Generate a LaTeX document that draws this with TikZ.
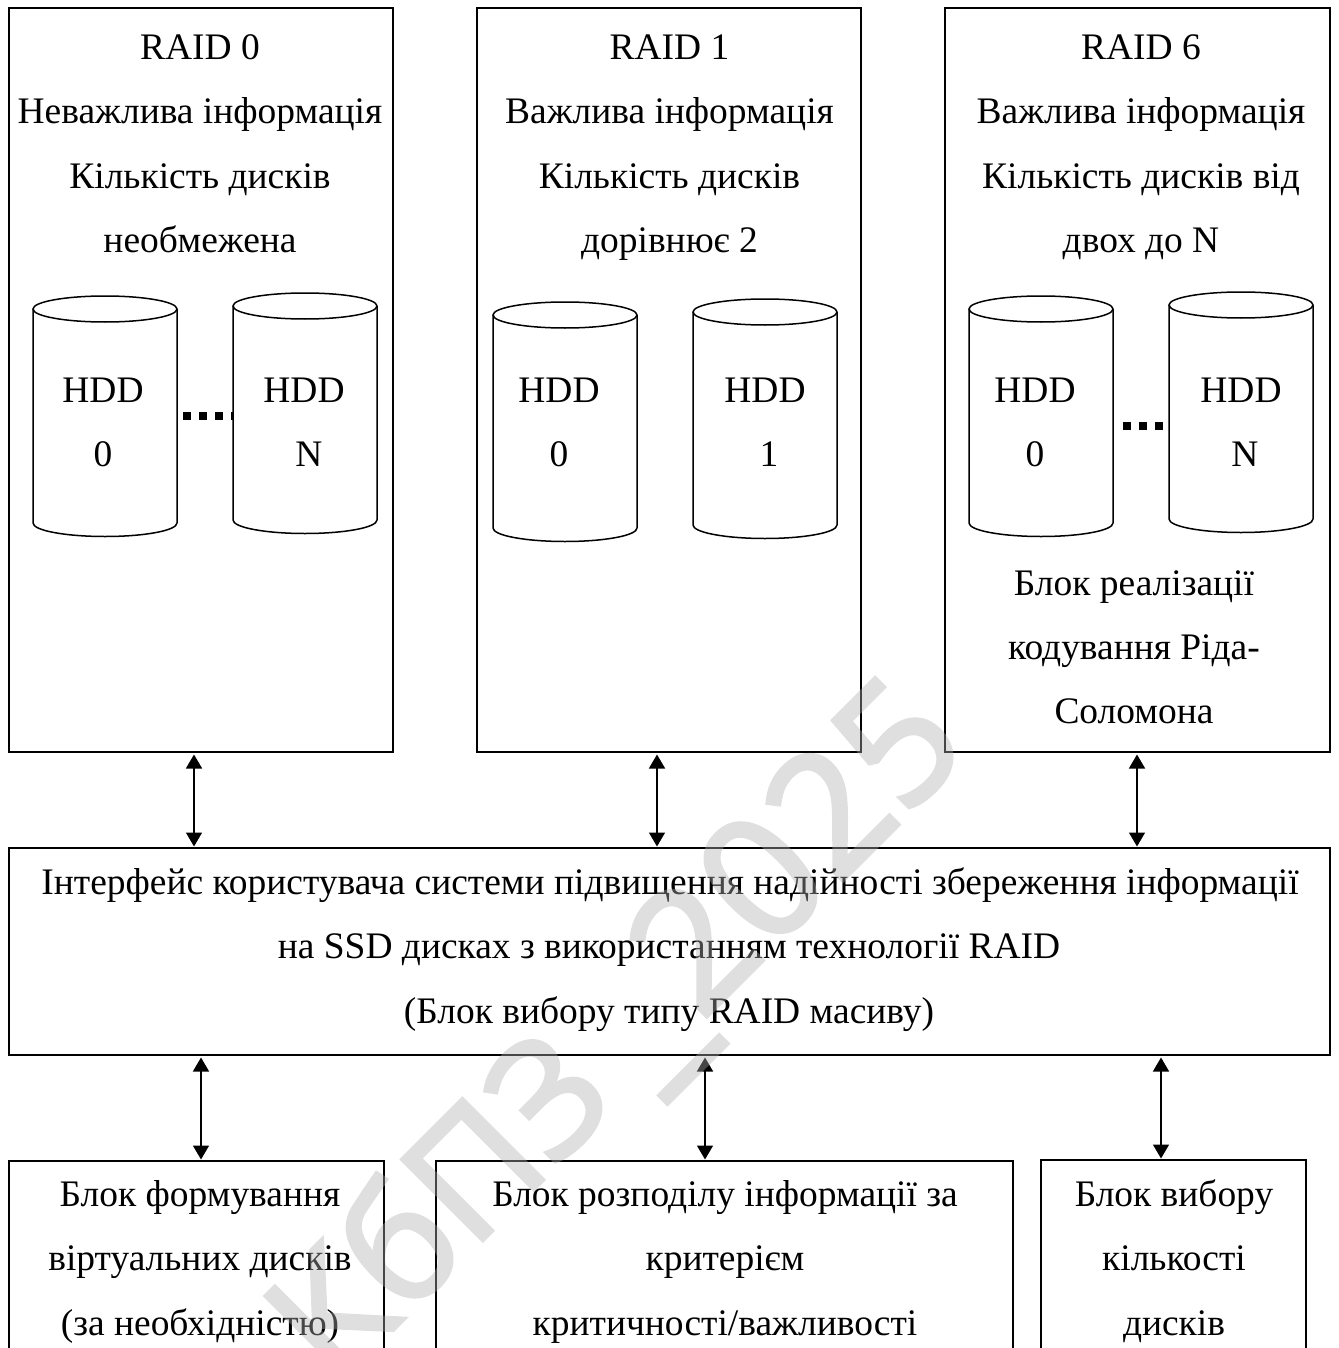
\documentclass[tikz,border=0pt]{standalone}
\usepackage{fontspec}
\setmainfont{Liberation Serif}
\newfontfamily\wmfont[FakeBold=2.5]{Open Sans}
\usetikzlibrary{arrows.meta}
\definecolor{wmgray}{HTML}{AFAFAF}
\tikzset{
  x=1pt,y=-1pt,
  blockbox/.style={draw=black,line width=1.8pt,anchor=north west,inner sep=0pt,outer sep=0pt},
  label/.style={anchor=base,inner sep=0pt,outer sep=0pt,font=\fontsize{37.45}{40}\selectfont},
  biarrow/.style={{Triangle[length=14pt,width=16pt]}-{Triangle[length=14pt,width=16pt]},line width=1.5pt,black,shorten <=2.5pt,shorten >=1.5pt},
  dotsline/.style={line width=8pt,dash pattern=on 8pt off 8pt},
  diskline/.style={draw=black,line width=1.5pt,fill=white},
  watermark/.style={text=wmgray,rotate=45,anchor=base west,inner sep=0pt,font=\wmfont\fontsize{160}{160}\selectfont}
}
\newcommand{\hdd}[3]{% x left, y ellipse centre, y bottom of sides
  \draw[diskline] (#1,#2) -- (#1,#3) arc[start angle=180,end angle=0,x radius=72,y radius=13.5] -- (#1+144,#2);
  \draw[diskline] (#1+72,#2) ellipse[x radius=72,y radius=13];
}
\begin{document}
\begin{tikzpicture}
\useasboundingbox (0,0) rectangle (1338,1348);
\clip (0,0) rectangle (1338,1348);
\node[blockbox,minimum width=384pt,minimum height=744pt] (r0) at (9,8) {};
\node[blockbox,minimum width=384pt,minimum height=744pt] (r1) at (477,8) {};
\node[blockbox,minimum width=385pt,minimum height=744pt] (r6) at (945,8) {};
\node[blockbox,minimum width=1321pt,minimum height=207pt] (ui) at (9,848) {};
\node[blockbox,minimum width=375pt,minimum height=195pt] (b1) at (9,1161) {};
\node[blockbox,minimum width=577pt,minimum height=195pt] (b2) at (436,1161) {};
\node[blockbox,minimum width=265pt,minimum height=195pt] (b3) at (1041,1160) {};

% RAID 0
\node[label] (t01) at (200,60) {RAID 0};
\node[label] (t02) at (200,124) {Неважлива інформація};
\node[label] (t03) at (200,188.5) {Кількість дисків};
\node[label] (t04) at (200,252.5) {необмежена};
\draw[dotsline] (183,416) -- (233,416);
\hdd{33}{309}{523}
\hdd{233}{306}{520}
\node[label] (d01) at (103,402) {HDD};
\node[label] (d02) at (103,466) {0};
\node[label] (d03) at (304,402) {HDD};
\node[label] (d04) at (309,466) {N};

% RAID 1
\node[label] (t11) at (669.5,60) {RAID 1};
\node[label] (t12) at (669.5,124) {Важлива інформація};
\node[label] (t13) at (669.5,188.5) {Кількість дисків};
\node[label] (t14) at (669.5,252.5) {дорівнює 2};
\hdd{493}{315}{528}
\hdd{693}{312}{525}
\node[label] (d11) at (559,402) {HDD};
\node[label] (d12) at (559,466) {0};
\node[label] (d13) at (765,402) {HDD};
\node[label] (d14) at (769,466) {1};

% RAID 6
\node[label] (t61) at (1141,60) {RAID 6};
\node[label] (t62) at (1141,124) {Важлива інформація};
\node[label] (t63) at (1141,188.5) {Кількість дисків від};
\node[label] (t64) at (1141,252.5) {двох до N};
\draw[dotsline] (1123,426) -- (1171,426);
\hdd{969}{309}{523}
\hdd{1169}{305}{519}
\node[label] (d61) at (1035,402) {HDD};
\node[label] (d62) at (1035,466) {0};
\node[label] (d63) at (1241,402) {HDD};
\node[label] (d64) at (1245,466) {N};
\node[label] (t65) at (1134,595) {Блок реалізації};
\node[label] (t66) at (1134,659) {кодування Ріда-};
\node[label] (t67) at (1134,723) {Соломона};

% interface
\node[label] (u1) at (670,894) {Інтерфейс користувача системи підвищення надійності збереження інформації};
\node[label] (u2) at (669,958) {на SSD дисках з використанням технології RAID};
\node[label] (u3) at (669,1023) {(Блок вибору типу RAID масиву)};

% bottom
\node[label] (b11) at (200,1206) {Блок формування};
\node[label] (b12) at (200,1270) {віртуальних дисків};
\node[label] (b13) at (200,1335) {(за необхідністю)};
\node[label] (b21) at (725,1206) {Блок розподілу інформації за};
\node[label] (b22) at (725,1270) {критерієм};
\node[label] (b23) at (725,1335) {критичності/важливості};
\node[label] (b31) at (1174,1206) {Блок вибору};
\node[label] (b32) at (1174,1270) {кількості};
\node[label] (b33) at (1174,1335) {дисків};

% connectors
\coordinate (a1) at (194,800);
\coordinate (a2) at (657,800);
\coordinate (a3) at (1137,800);
\coordinate (a4) at (201,1100);
\coordinate (a5) at (705,1100);
\coordinate (a6) at (1161,1100);
\draw[biarrow] (r0.south -| a1) -- (ui.north -| a1);
\draw[biarrow] (r1.south -| a2) -- (ui.north -| a2);
\draw[biarrow] (r6.south -| a3) -- (ui.north -| a3);
\draw[biarrow] (ui.south -| a4) -- (b1.north -| a4);
\draw[biarrow] (ui.south -| a5) -- (b2.north -| a5);
\draw[biarrow] (ui.south -| a6) -- (b3.north -| a6);

\begin{scope}[transparency group,opacity=.4]
\node[watermark] (wm) at (335,1388) {КбПЗ \kern-16pt\raisebox{-71pt}{\scalebox{1.25}[1]{–}}\kern-11pt {\fontsize{168}{168}\selectfont 2025}};
\end{scope}
\end{tikzpicture}
\end{document}
